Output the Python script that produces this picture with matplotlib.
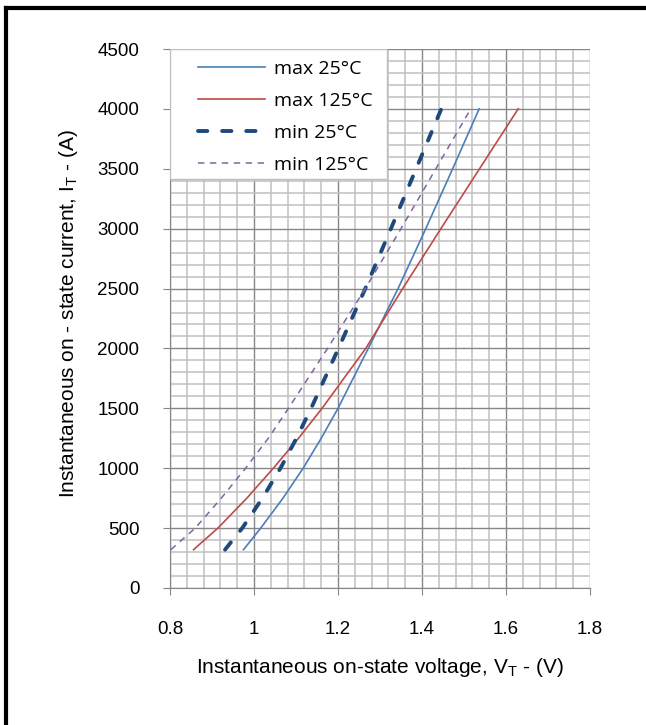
import numpy as np
import matplotlib
matplotlib.use("Agg")
import matplotlib.pyplot as plt
from matplotlib.patches import Rectangle
from matplotlib.lines import Line2D
from matplotlib.ticker import MultipleLocator

plt.rcParams['font.family'] = ['Liberation Sans', 'DejaVu Sans']
plt.rcParams['mathtext.fontset'] = 'custom'
plt.rcParams['mathtext.rm'] = 'Liberation Sans'

# on-state current (A) and voltage (V)
current = [320, 500, 750, 1000, 1250, 1500, 2000, 2500, 3000, 3500, 4000]
v_max_25 = [0.975, 1.016, 1.069, 1.117, 1.160, 1.200, 1.272, 1.343, 1.409, 1.473, 1.536]
v_max_125 = [0.856, 0.914, 0.983, 1.046, 1.106, 1.162, 1.266, 1.354, 1.445, 1.537, 1.629]
v_min_25 = [0.931, 0.972, 1.020, 1.063, 1.101, 1.136, 1.201, 1.265, 1.326, 1.386, 1.446]
v_min_125 = [0.802, 0.860, 0.922, 0.980, 1.034, 1.082, 1.175, 1.265, 1.350, 1.433, 1.516]

labels = ['max 25°C', 'max 125°C', 'min 25°C', 'min 125°C']
x_ticks = [0.8, 1, 1.2, 1.4, 1.6, 1.8]
x_ticklabels = ['0.8', '1', '1.2', '1.4', '1.6', '1.8']

fig = plt.figure(figsize=(6.46, 7.25), dpi=100)
ax = fig.add_axes([170 / 646, 1 - 588 / 725, 420 / 646, 539 / 725])

styles = [
    dict(color='#4a7ebb', lw=1.2),
    dict(color='#be4b48', lw=1.2),
    dict(color='#1f497d', lw=2.8, dashes=(2.4, 3.8), dash_capstyle='round'),
    dict(color='#8064a2', lw=1.1, dashes=(4.2, 3.6)),
]
for v, st in zip([v_max_25, v_max_125, v_min_25, v_min_125], styles):
    ax.plot(v, current, zorder=3, solid_joinstyle='round', **st)

ax.set_xlim(0.8, 1.8)
ax.set_ylim(0, 4500)
ax.set_xticks(x_ticks)
ax.set_xticklabels(x_ticklabels)
ax.yaxis.set_major_locator(MultipleLocator(500))
ax.xaxis.set_minor_locator(MultipleLocator(0.04))
ax.yaxis.set_minor_locator(MultipleLocator(100))
ax.grid(which='minor', color='#c0c0c0', lw=1.1, zorder=1)
ax.grid(which='major', color='#868686', lw=1.0, zorder=1)
ax.set_axisbelow(True)
ax.tick_params(which='major', direction='out', length=5, color='#868686',
               labelsize=13.5)
ax.tick_params(axis='x', pad=19)
ax.tick_params(axis='y', pad=17)
ax.tick_params(which='minor', length=0)
for s in ['top', 'right']:
    ax.spines[s].set_visible(False)
for s in ['left', 'bottom']:
    ax.spines[s].set_color('#868686')

ax.set_xlabel(r'Instantaneous on-state voltage, V$_\mathrm{T}$ - (V)',
              fontsize=15)
ax.set_ylabel(r'Instantaneous on - state current, I$_\mathrm{T}$ - (A)',
              fontsize=15)
ax.xaxis.set_label_coords(0.5, -0.126)
ax.yaxis.set_label_coords(-0.215, 0.51)

# legend box over the grid, top left
ax.add_patch(Rectangle((0, 3414 / 4500), 0.517, 1 - 3414 / 4500,
                       transform=ax.transAxes, facecolor='white',
                       edgecolor='#bfbfbf', lw=1.0, zorder=4))
handles = [Line2D([], [], **st) for st in styles]
leg = ax.legend(handles, labels, loc='upper left',
                bbox_to_anchor=(0.026, 1.012), frameon=False,
                prop={'family': 'Open Sans', 'size': 14},
                handlelength=3.4, handletextpad=0.5, labelspacing=0.72)
leg.set_zorder(5)

# black frame on top and left of the figure
fig.add_artist(Line2D([6 / 646, 6 / 646], [0, 1 - 8 / 725],
                      color='black', lw=3, transform=fig.transFigure))
fig.add_artist(Line2D([6 / 646, 1], [1 - 8 / 725, 1 - 8 / 725],
                      color='black', lw=3, transform=fig.transFigure))

fig.savefig('out.png', dpi=100)
